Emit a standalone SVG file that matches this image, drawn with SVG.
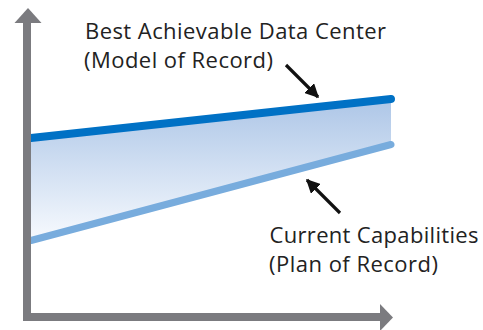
<svg xmlns="http://www.w3.org/2000/svg" width="483" height="330" viewBox="0 0 483 330">
<defs>
<linearGradient id="band" x1="0" y1="99" x2="0" y2="241" gradientUnits="userSpaceOnUse">
<stop offset="0" stop-color="#adc6e7"/>
<stop offset="1" stop-color="#f7fafe"/>
</linearGradient>
<marker id="blk" viewBox="0 0 10 10" refX="9" refY="5" markerWidth="4.4" markerHeight="4.4" orient="auto" markerUnits="strokeWidth">
<path d="M0,0 L10,5 L0,10 Z" fill="#111"/>
</marker>
<style>
.axis{fill:none;stroke:#7b7b7f;stroke-width:8}
.head{fill:#7b7b7f}
.lbl{font-family:"Open Sans","Noto Sans",sans-serif;font-size:22px;fill:#222}
.ptr{stroke:#111;stroke-width:3.2;fill:none}
</style>
</defs>
<g id="band-area">
<polygon points="31,138 391,99 391,145 31,241" fill="url(#band)"/>
</g>
<g id="best-line">
<line x1="31" y1="138" x2="391" y2="99" stroke="#0071c5" stroke-width="8" stroke-linecap="round"/>
</g>
<g id="current-line">
<line x1="31" y1="240.5" x2="391" y2="144.5" stroke="#78acdd" stroke-width="7" stroke-linecap="round"/>
</g>
<g id="axes">
<path class="axis" d="M27,22 V317 H381"/>
<polygon class="head" points="14.5,23 28,8 41.5,23"/>
<polygon class="head" points="380,304 393,317.5 380,331"/>
</g>
<g id="connectors">
<line class="ptr" x1="286" y1="65" x2="318" y2="97" marker-end="url(#blk)"/>
<line class="ptr" x1="340" y1="213" x2="307" y2="180" marker-end="url(#blk)"/>
</g>
<g id="label-best">
<text class="lbl" x="85" y="38.5" textLength="301" lengthAdjust="spacing">Best Achievable Data Center</text>
<text class="lbl" x="84" y="67.5" textLength="189" lengthAdjust="spacing">(Model of Record)</text>
</g>
<g id="label-current">
<text class="lbl" x="269.5" y="242.5" textLength="209" lengthAdjust="spacing">Current Capabilities</text>
<text class="lbl" x="269" y="271.5" textLength="169" lengthAdjust="spacing">(Plan of Record)</text>
</g>
</svg>
